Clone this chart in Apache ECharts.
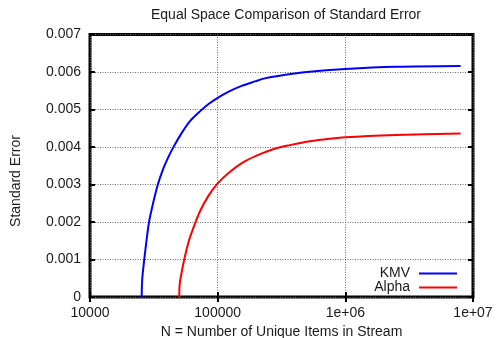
<!DOCTYPE html>
<html>
<head>
<meta charset="utf-8">
<script src="https://cdn.jsdelivr.net/npm/echarts@6/dist/echarts.min.js"></script>
<style>
  html, body { margin: 0; padding: 0; background: #fff; }
  #chart { width: 496px; height: 338px; }
</style>
</head>
<body>
<div id="chart"></div>
<script>
/* ---------- data ---------- */

const kmvN = [25400, 25500, 25750, 26600, 27700, 29000, 31200, 34000, 37000, 40300, 44900,
  52200, 60700, 72600, 84400, 100000, 121000, 154000, 196000, 234000, 330000, 500000,
  1000000, 2500000, 8000000];
const kmvSE = [0, 0.0003, 0.00055, 0.001, 0.0015, 0.002, 0.0025, 0.003, 0.00337, 0.00367, 0.00399,
  0.00437, 0.00469, 0.00495, 0.00514, 0.00531, 0.00547, 0.00563, 0.00575, 0.00583, 0.00592, 0.006,
  0.00608, 0.00614, 0.00616];

const alphaN = [50000, 50300, 51200, 54700, 59500, 63700, 72600, 84400, 100000, 125000, 158000,
  202000, 272000, 368000, 498000, 672000, 1000000, 2500000, 8000000];
const alphaSE = [0, 0.0003, 0.0005, 0.001, 0.0015, 0.00179, 0.00228, 0.00269, 0.00303, 0.00334,
  0.00359, 0.00377, 0.00394, 0.00405, 0.00414, 0.0042, 0.00426, 0.00432, 0.00436];

const xTickLabels = ['10000', '100000', '1e+06', '1e+07'];
const yTickLabels = ['0', '0.001', '0.002', '0.003', '0.004', '0.005', '0.006', '0.007'];

/* ---------- chart ---------- */

const FONT = 'Liberation Sans, Arial, sans-serif';
const TEXT = '#1a1a1a';
const SPLIT = { show: true, lineStyle: { color: '#666', type: [1, 1.5], width: 1 } };
const TICK = { show: true, inside: true, length: 5, lineStyle: { color: '#000', width: 2 } };

const zip = (xs, ys) => xs.map((x, i) => [x, ys[i]]);

const chart = echarts.init(document.getElementById('chart'), null, { renderer: 'canvas' });

chart.setOption({
  animation: false,
  backgroundColor: '#fff',
  textStyle: { fontFamily: FONT },
  title: {
    text: 'Equal Space Comparison of Standard Error',
    left: 281,
    textAlign: 'center',
    top: 3,
    textStyle: { fontFamily: FONT, fontSize: 14, fontWeight: 'normal', color: TEXT },
  },
  grid: {
    left: 90, right: 23, top: 34.5, bottom: 41,
    outerBoundsMode: 'none',
    containLabel: false,
    show: true, borderColor: '#000', borderWidth: 3, backgroundColor: 'transparent',
  },
  legend: {
    orient: 'vertical',
    align: 'right',
    right: 39,
    top: 266.5,
    padding: 0,
    itemGap: 0,
    itemWidth: 38,
    itemHeight: 2,
    icon: 'rect',
    textStyle: {
      fontFamily: FONT, fontSize: 14, color: TEXT, lineHeight: 13.5, padding: [0, 4, 0, 0],
    },
    data: ['KMV', 'Alpha'],
  },
  xAxis: [
    {
      type: 'log',
      logBase: 10,
      min: 10000,
      max: 10000000,
      name: 'N = Number of Unique Items in Stream',
      nameLocation: 'middle',
      nameGap: 26,
      nameTextStyle: { fontFamily: FONT, fontSize: 14, color: TEXT },
      axisLine: { show: false },
      axisTick: TICK,
      splitLine: SPLIT,
      axisLabel: {
        fontFamily: FONT, fontSize: 14, color: TEXT, margin: 9,
        showMinLabel: true, showMaxLabel: true,
        formatter: (v) => xTickLabels[Math.round(Math.log10(v)) - 4],
      },
    },
    {
      type: 'log',
      logBase: 10,
      min: 10000,
      max: 10000000,
      position: 'top',
      axisLine: { show: false },
      axisTick: TICK,
      axisLabel: { show: false },
      splitLine: { show: false },
    },
  ],
  yAxis: [
    {
      type: 'value',
      min: 0,
      max: 0.007,
      interval: 0.001,
      axisLine: { show: false },
      axisTick: TICK,
      splitLine: SPLIT,
      axisLabel: {
        fontFamily: FONT, fontSize: 14, color: TEXT, margin: 9,
        formatter: (v) => yTickLabels[Math.round(v / 0.001)],
      },
    },
    {
      type: 'value',
      min: 0,
      max: 0.007,
      interval: 0.001,
      position: 'right',
      axisLine: { show: false },
      axisTick: TICK,
      axisLabel: { show: false },
      splitLine: { show: false },
    },
  ],
  graphic: [
    {
      type: 'text',
      x: 16,
      y: 181,
      rotation: Math.PI / 2,
      style: {
        text: 'Standard Error',
        fontFamily: FONT,
        fontSize: 14,
        fill: TEXT,
        align: 'center',
        verticalAlign: 'middle',
      },
    },
  ],
  series: [
    {
      name: 'KMV',
      type: 'line',
      data: zip(kmvN, kmvSE),
      showSymbol: false,
      symbol: 'none',
      smooth: 0.3,
      lineStyle: { color: '#0000ff', width: 2 },
      itemStyle: { color: '#0000ff' },
    },
    {
      name: 'Alpha',
      type: 'line',
      data: zip(alphaN, alphaSE),
      showSymbol: false,
      symbol: 'none',
      smooth: 0.3,
      lineStyle: { color: '#ff0000', width: 2 },
      itemStyle: { color: '#ff0000' },
    },
  ],
});
</script>
</body>
</html>
